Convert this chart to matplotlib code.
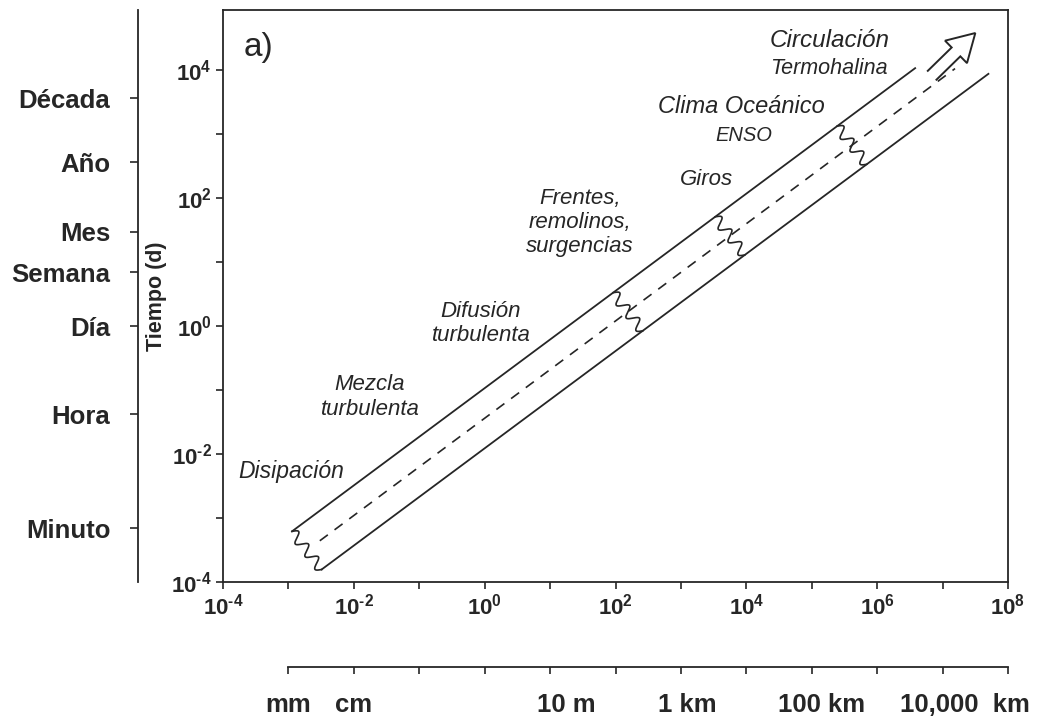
import matplotlib
matplotlib.use("Agg")
import matplotlib.pyplot as plt
import numpy as np
from matplotlib.ticker import NullLocator
from matplotlib.transforms import blended_transform_factory

plt.rcParams["font.family"] = ["Liberation Sans", "DejaVu Sans"]
plt.rcParams["font.weight"] = "bold"
plt.rcParams["mathtext.fontset"] = "custom"
plt.rcParams["mathtext.rm"] = "Liberation Sans:bold"
plt.rcParams["mathtext.bf"] = "Liberation Sans:bold"
plt.rcParams["mathtext.it"] = "Liberation Sans:bold:italic"

ink = "#262626"

# reference time marks (days)
time_names = ["Década", "Año", "Mes", "Semana", "Día", "Hora", "Minuto"]
time_days = [3650, 365, 30, 7, 1, 1 / 24, 1 / 1440]

# reference length marks (m)
length_names = ["mm", "cm", "10 m", "1 km", "100 km", "10,000  km"]
length_m = [1e-3, 1e-2, 1e1, 1e3, 1e5, 1e7]
length_nudge = [0, 0, 0.245, 0.09, 0.15, 0.34]  # label shift, decades

x_decades = np.arange(-4, 9)
y_decades = np.arange(-4, 5)

# band: log10(T [d]) = icpt + slope * log10(L [m])
band_slope = 0.76
upper_icpt = -0.97
mid_icpt = -1.44
lower_icpt = -1.91
upper_end = 10 ** 6.58
lower_end = 10 ** 7.70
mid_start, mid_end = 10 ** -2.52, 10 ** 7.19

# lengths where the wavy cuts leave the upper edge (m)
cut_lengths = [10 ** -2.945, 10 ** 1.963, 10 ** 3.523, 10 ** 5.388]

# arrow: tail and tip (m, d)
arrow_tail = (10 ** 6.84, 10 ** 3.92)
arrow_tip = (10 ** 7.50, 10 ** 4.58)

# process labels: text, L (m), T (d), size
proc_text = ["Disipación", "Mezcla\nturbulenta", "Difusión\nturbulenta",
             "Frentes,\nremolinos,\nsurgencias", "Giros", "Clima Oceánico",
             "ENSO", "Circulación", "Termohalina"]
proc_L = [1.1e-3, 1.77e-2, 0.88, 28.8, 2500, 8300, 9250, 1.85e5, 1.85e5]
proc_T = [5.4e-3, 7.8e-2, 1.11, 42, 198, 2740, 964, 29400, 10700]
proc_size = [16.5, 16, 16, 16, 16, 17, 14.5, 17.5, 15.5]


def edge(L, icpt):
    return 10 ** (icpt + band_slope * np.log10(L))


def pow_label(e):
    if e % 2:
        return ""
    exp = f"\\text{{-}}{abs(e)}" if e < 0 else str(e)
    return f"$\\mathbf{{10^{{{exp}}}}}$"


fig = plt.figure(figsize=(10.42, 7.19), dpi=100)
ax = fig.add_axes([0.2140, 0.1905, 0.7534, 0.7956])
ax.set_xscale("log")
ax.set_yscale("log")
ax.set_xlim(1e-4, 1e8)
ax.set_ylim(1e-4, 10 ** 4.94)

lw = 1.3
norm = np.hypot(1, band_slope)
tang = np.array([1, band_slope]) / norm
perp = np.array([band_slope, -1]) / norm
width = (upper_icpt - lower_icpt) / norm

# wavy cross-cuts from the upper edge to the lower edge
u = np.linspace(0, 1, 200)
for Lc in cut_lengths:
    p0 = np.array([np.log10(Lc), upper_icpt + band_slope * np.log10(Lc)])
    pts = p0[:, None] + perp[:, None] * u * width + tang[:, None] * 0.08 * np.sin(2 * np.pi * 3 * u)
    ax.plot(10 ** pts[0], 10 ** pts[1], color=ink, lw=1.2)

lower_start = 10 ** (np.log10(cut_lengths[0]) + perp[0] * width)

L = np.geomspace(cut_lengths[0], upper_end, 50)
ax.plot(L, edge(L, upper_icpt), color=ink, lw=lw)
L = np.geomspace(lower_start, lower_end, 50)
ax.plot(L, edge(L, lower_icpt), color=ink, lw=lw)
L = np.geomspace(mid_start, mid_end, 50)
ax.plot(L, edge(L, mid_icpt), color=ink, lw=1.2, ls=(0, (6, 5)))

# hollow arrow, built in pixel space so it keeps its shape on log axes
tail = ax.transData.transform(arrow_tail)
tip = ax.transData.transform(arrow_tip)
d = (tip - tail) / np.linalg.norm(tip - tail)
n = np.array([-d[1], d[0]])
base = tip - d * 27
shaft_w, head_w = 6.2, 15.7
outline = np.array([tail - n * shaft_w, base - n * shaft_w, base - n * head_w, tip,
                    base + n * head_w, base + n * shaft_w, tail + n * shaft_w])
outline = ax.transData.inverted().transform(outline)
ax.plot(outline[:, 0], outline[:, 1], color=ink, lw=1.4, solid_joinstyle="miter")

for txt, Lx, Ty, fs in zip(proc_text, proc_L, proc_T, proc_size):
    ax.text(Lx, Ty, txt, fontsize=fs, fontstyle="italic", fontweight="normal",
            ha="center", va="center", color=ink, linespacing=1.2)

ax.text(0.026, 0.934, "a)", transform=ax.transAxes, fontsize=24,
        fontweight="normal", ha="left", va="center", color=ink)

# main axes
for sp in ax.spines.values():
    sp.set_color(ink)
    sp.set_linewidth(1.3)
ax.set_xticks(10.0 ** x_decades, [pow_label(e) for e in x_decades])
ax.set_yticks(10.0 ** y_decades, [pow_label(e) for e in y_decades])
ax.xaxis.set_minor_locator(NullLocator())
ax.yaxis.set_minor_locator(NullLocator())
ax.tick_params(direction="out", length=5, width=1.2, color=ink, labelsize=16,
               labelcolor=ink, pad=3)
ax.set_ylabel("Tiempo (d)", fontsize=15.5, fontweight="bold", color=ink, labelpad=3)

# time units axis on the left
tax = ax.secondary_yaxis(-0.108)
tax.set_yticks(time_days, time_names)
tax.yaxis.set_minor_locator(NullLocator())
tax.spines["left"].set_color(ink)
tax.spines["left"].set_linewidth(1.3)
tax.tick_params(direction="out", length=6, width=1.2, color=ink, labelsize=18.5,
                labelcolor=ink, pad=14)

# length units axis below
lax = ax.secondary_xaxis(-0.1486)
lax.set_xticks(10.0 ** np.arange(-3, 9), [""] * 12)
lax.xaxis.set_minor_locator(NullLocator())
lax.spines["bottom"].set_bounds(1e-3, 1e8)
lax.spines["bottom"].set_color(ink)
lax.spines["bottom"].set_linewidth(1.3)
lax.tick_params(direction="out", length=5, width=1.2, color=ink)

trans = blended_transform_factory(ax.transData, ax.transAxes)
for name, Lm, dx in zip(length_names, length_m, length_nudge):
    ax.text(Lm * 10 ** dx, -0.215, name, transform=trans, fontsize=18.5,
            ha="center", va="center", color=ink)

fig.savefig("out.png", dpi=100, facecolor="white")
